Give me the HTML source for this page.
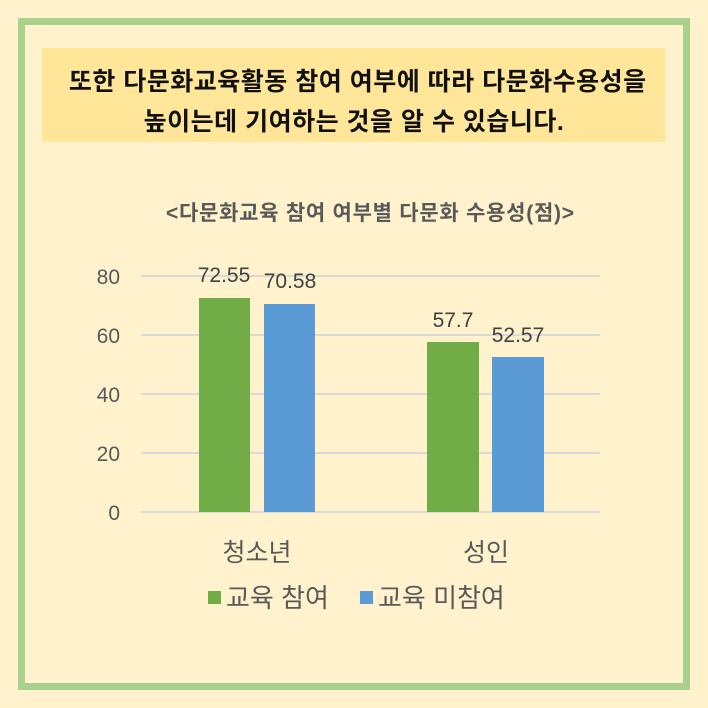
<!DOCTYPE html>
<html><head><meta charset="utf-8"><style>
body{margin:0;width:708px;height:708px;background:#fff2cc;position:relative;overflow:hidden;font-family:"Liberation Sans","Noto Sans CJK KR",sans-serif}
.frame{position:absolute;left:18px;top:18px;width:658px;height:658px;border:7px solid #a9d18e}
.hdr{position:absolute;left:42px;top:48px;width:623px;height:94px;background:#ffe699}
.t{position:absolute;left:0;width:708px;text-align:center;font-weight:bold;color:#111;font-size:25px;letter-spacing:0.5px}
</style></head><body>
<div class="frame"></div>
<div class="hdr"></div>
<div class="t" style="top:62px">&nbsp;또한 다문화교육활동 참여 여부에 따라 다문화수용성을</div>
<div class="t" style="top:102px">높이는데 기여하는 것을 알 수 있습니다.</div>
<svg width="708" height="708" style="position:absolute;left:0;top:0" font-family="Liberation Sans, Noto Sans CJK KR, sans-serif">
<text x="370" y="220" text-anchor="middle" font-size="21" font-weight="bold" fill="#595959" textLength="408">&lt;다문화교육 참여 여부별 다문화 수용성(점)&gt;</text>
<g stroke="#d9d9d9" stroke-width="2">
<line x1="141" x2="600" y1="276" y2="276"/><line x1="141" x2="600" y1="335" y2="335"/><line x1="141" x2="600" y1="394" y2="394"/><line x1="141" x2="600" y1="453" y2="453"/><line x1="141" x2="600" y1="512" y2="512"/>
</g>
<g font-size="21" fill="#595959" text-anchor="end">
<text x="120" y="284">80</text><text x="120" y="343">60</text><text x="120" y="402">40</text><text x="120" y="461">20</text><text x="120" y="520">0</text>
</g>
<rect x="199" y="298" width="51" height="214" fill="#70ad47"/>
<rect x="264" y="304" width="51" height="208" fill="#5b9bd5"/>
<rect x="427" y="342" width="52" height="170" fill="#70ad47"/>
<rect x="492" y="357" width="52" height="155" fill="#5b9bd5"/>
<g font-size="21" fill="#404040" text-anchor="middle">
<text x="224" y="282">72.55</text><text x="290" y="288">70.58</text>
<text x="453" y="327">57.7</text><text x="518" y="342">52.57</text>
</g>
<g font-size="25" fill="#595959" text-anchor="middle">
<text x="257" y="561">청소년</text><text x="486" y="561">성인</text>
</g>
<rect x="208" y="591" width="13" height="13" fill="#70ad47"/>
<rect x="360" y="591" width="13" height="13" fill="#5b9bd5"/>
<g font-size="26" fill="#595959">
<text x="226" y="607">교육 참여</text><text x="378" y="607">교육 미참여</text>
</g>
</svg>
</body></html>
